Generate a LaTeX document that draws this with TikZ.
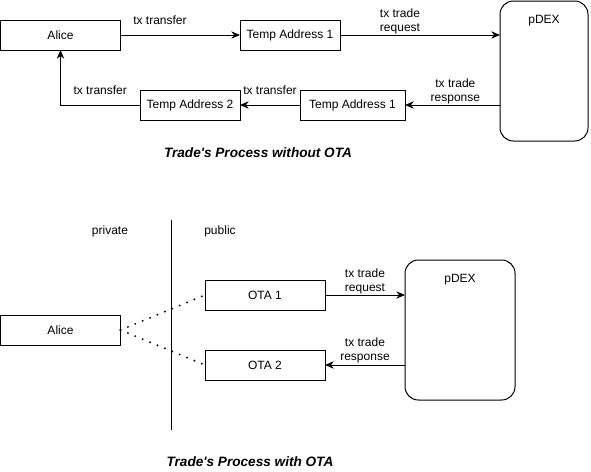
\documentclass[tikz,border=0pt]{standalone}
\usepackage{fontspec}
\setmainfont{Liberation Sans}
\usetikzlibrary{arrows.meta,positioning}

\begin{document}
\begin{tikzpicture}[x=0.75pt, y=-0.75pt, line width=0.75pt,
    every node/.style={font=\fontsize{9}{10.5}\selectfont, inner sep=0pt, outer sep=0pt},
    box/.style={draw, minimum height=22.5pt, anchor=north west},
    dexbox/.style={draw, rounded corners=10pt, minimum height=105pt, anchor=north west},
    tip/.style={-{Stealth[length=6.5pt, width=5.5pt, inset=2pt]}},
    link/.style={line width=1.6pt, line cap=round, dash pattern=on 0pt off 6pt},
    lbl/.style={align=center},
    heading/.style={font=\fontsize{10.2}{12}\selectfont\bfseries\itshape}]
    \useasboundingbox (0,0) rectangle (591,471);

    % without OTA
    \node[box, minimum width=90pt] (aliceA) at (0.5,20) {Alice};
    \node[box, minimum width=75pt] (tempA) at (240,20) {Temp Address 1};
    \node[dexbox, minimum width=66pt] (dexA) at (500,1) {};
    \node[below=10.5pt of dexA.north] (dexAname) {pDEX};
    \node[box, minimum width=75pt] (tempC) at (140,90) {Temp Address 2};
    \node[box, minimum width=78.75pt] (tempB) at (300,90) {Temp Address 1};

    \draw[tip] (aliceA) -- node[pos=.33, yshift=11pt] {tx transfer} (tempA);
    \draw[tip] (tempA.east) -- node[lbl, pos=.375, yshift=10.5pt] {tx trade\\request} (tempA.east -| dexA.west);
    \draw[tip] (dexA.west |- tempB.east) -- node[lbl, pos=.47, yshift=10.5pt] {tx trade\\response} (tempB.east);
    \draw[tip] (tempB) -- node[yshift=11pt] {tx transfer} (tempC);
    \draw[tip] (tempC.west) -| node[pos=.25, yshift=11pt] {tx transfer} (aliceA.south);

    \node[heading] (titleA) at (258,153) {Trade\textquotesingle s Process without OTA};

    % with OTA
    \node (privLbl) at (110,231) {private};
    \node (pubLbl) at (220,231) {public};
    \coordinate (splitTop) at (171,220);
    \coordinate (splitBot) at (171,430);
    \draw (splitTop) -- (splitBot);

    \node[box, minimum width=90pt] (aliceB) at (0.5,315) {Alice};
    \node[box, minimum width=90pt] (otaA) at (205,280) {OTA 1};
    \node[box, minimum width=90pt] (otaB) at (205,350) {OTA 2};
    \node[dexbox, minimum width=82.5pt] (dexB) at (405,260) {};
    \node[below=10.5pt of dexB.north] (dexBname) {pDEX};

    \draw[link] (aliceB.east) -- (otaA.west);
    \draw[link] (aliceB.east) -- (otaB.west);
    \draw[tip] (otaA.east) -- node[lbl, yshift=10.5pt] {tx trade\\request} (otaA.east -| dexB.west);
    \draw[tip] (dexB.west |- otaB.east) -- node[lbl, yshift=11pt] {tx trade\\response} (otaB.east);

    \node[heading] (titleB) at (250,462) {Trade\textquotesingle s Process with OTA};
\end{tikzpicture}
\end{document}
